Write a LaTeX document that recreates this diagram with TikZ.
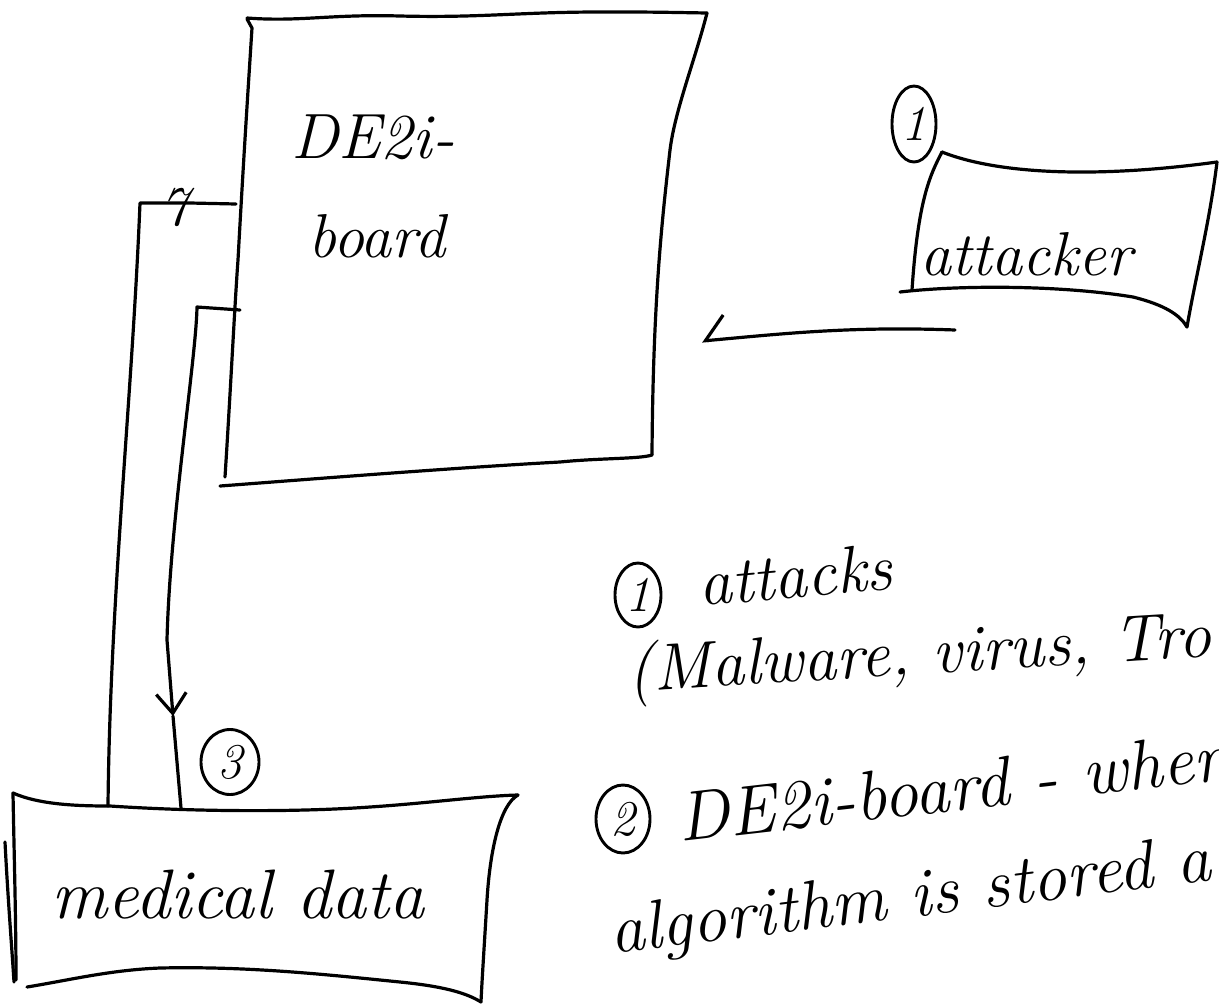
\documentclass[tikz,border=0pt]{standalone}
\usepackage{fontspec}
\usetikzlibrary{arrows.meta,shapes.geometric}
\tikzset{
  ink/.style={line width=3.2pt, line cap=round, line join=round, black},
  hand/.style={font=\fontsize{64}{70}\selectfont\itshape, inner sep=0pt},
  numcircle/.style={draw, ellipse, line width=2.9pt, inner sep=0pt, font=\fontsize{50}{54}\selectfont\itshape},
}
\begin{document}
\begin{tikzpicture}[x=1pt,y=-1pt]
\path[use as bounding box] (0,0) rectangle (1219,1005);
\clip (0,0) rectangle (1219,1005);

% ---- DE2i-board box
\draw[ink] (247,18) .. controls (300,22) and (330,14) .. (400,16) .. controls (480,18) and (520,12) .. (600,12) .. controls (650,12) .. (707,13);
\draw[ink] (707,13) .. controls (695,60) and (675,110) .. (670,150) .. controls (662,220) and (653,300) .. (652,455);
\draw[ink] (652,455) .. controls (640,459) and (600,458) .. (560,462) .. controls (450,468) and (300,480) .. (220,486);
\draw[ink] (225,477) .. controls (230,400) and (235,300) .. (238,260) .. controls (244,150) and (250,60) .. (252,28) -- (247,19);
\node[hand, anchor=base west] (boardtxtA) at (291,158) {DE2i-};
\node[hand, font=\fontsize{62}{66}\selectfont\itshape, anchor=base west] (boardtxtB) at (308,257) {board};
\coordinate (boardW1) at (236,204);
\coordinate (boardW2) at (240,310);

% ---- attacker box
\draw[ink] (942,152) .. controls (1000,175) and (1100,178) .. (1217,162);
\draw[ink] (942,152) .. controls (930,175) and (918,200) .. (912,290);
\draw[ink] (900,292) .. controls (960,285) and (1060,285) .. (1133,297) .. controls (1165,305) and (1180,315) .. (1187,327);
\draw[ink] (1217,162) .. controls (1210,220) and (1195,280) .. (1187,327);
\node[hand, font=\fontsize{62}{66}\selectfont\itshape, anchor=base west] (attacker) at (920,275) {attacker};
\coordinate (atkA) at (955,330);
\coordinate (atkB) at (702,341);

% ---- medical data box
\draw[ink] (13,793) .. controls (40,805) and (80,806) .. (110,806) .. controls (200,812) and (300,812) .. (370,807) .. controls (430,803) and (480,796) .. (518,795);
\draw[ink] (13,793) .. controls (14,850) and (16,920) .. (16,980);
\draw[ink] (5,842) .. controls (8,900) and (12,950) .. (14,982);
\draw[ink] (27,987) .. controls (70,980) and (110,970) .. (160,968) .. controls (250,966) and (330,975) .. (400,982) .. controls (440,986) and (465,992) .. (481,1002);
\draw[ink] (518,795) .. controls (500,805) and (490,850) .. (487,900) .. controls (484,950) and (482,980) .. (481,1002);
\node[hand, font=\fontsize{70}{74}\selectfont\itshape, anchor=base] (medical) at (238,918) {medical data};
\coordinate (medT1) at (108,806);
\coordinate (medT2) at (181,808);

% ---- connectors
\draw[ink] (boardW1) -- (190,203) -- (140,203) .. controls (132,400) and (110,600) .. (medT1);
\node[font=\fontsize{56}{60}\selectfont\itshape, inner sep=0pt] (seven) at (174,207) {7};
\coordinate (midB) at (173,716);
\draw[ink, -{Straight Barb[length=20pt,width=30pt]}] (boardW2) -- (197,307) .. controls (196,360) and (170,520) .. (167,640) -- (midB);
\draw[ink] (midB) -- (medT2);
\draw[ink, -{Straight Barb[harpoon,swap,length=20pt,width=48pt]}] (atkA) .. controls (850,326) and (780,334) .. (atkB);

% ---- numbered circles
\node[numcircle, minimum width=44pt, minimum height=76pt] (c1a) at (914,124) {1};
\node[numcircle, minimum width=46pt, minimum height=64pt] (c1b) at (638,595) {1};
\node[numcircle, minimum width=54pt, minimum height=68pt] (c2) at (623,819) {2};
\node[numcircle, minimum width=58pt, minimum height=65pt] (c3) at (230,762) {3};

% ---- notes
\node[hand, font=\fontsize{66}{70}\selectfont\itshape, anchor=base west, rotate=5] (t1) at (700,606) {attacks};
\node[hand, font=\fontsize{66}{70}\selectfont\itshape, anchor=base west, rotate=3.5] (t2) at (628,692) {(Malware, virus, Tro};
\node[hand, font=\fontsize{70}{74}\selectfont\itshape, anchor=base west, rotate=6.5] (t3) at (680,842) {DE2i-board - wher};
\node[hand, font=\fontsize{69}{73}\selectfont\itshape, anchor=base west, rotate=7] (t4) at (612,954) {algorithm is stored a};
\end{tikzpicture}
\end{document}
